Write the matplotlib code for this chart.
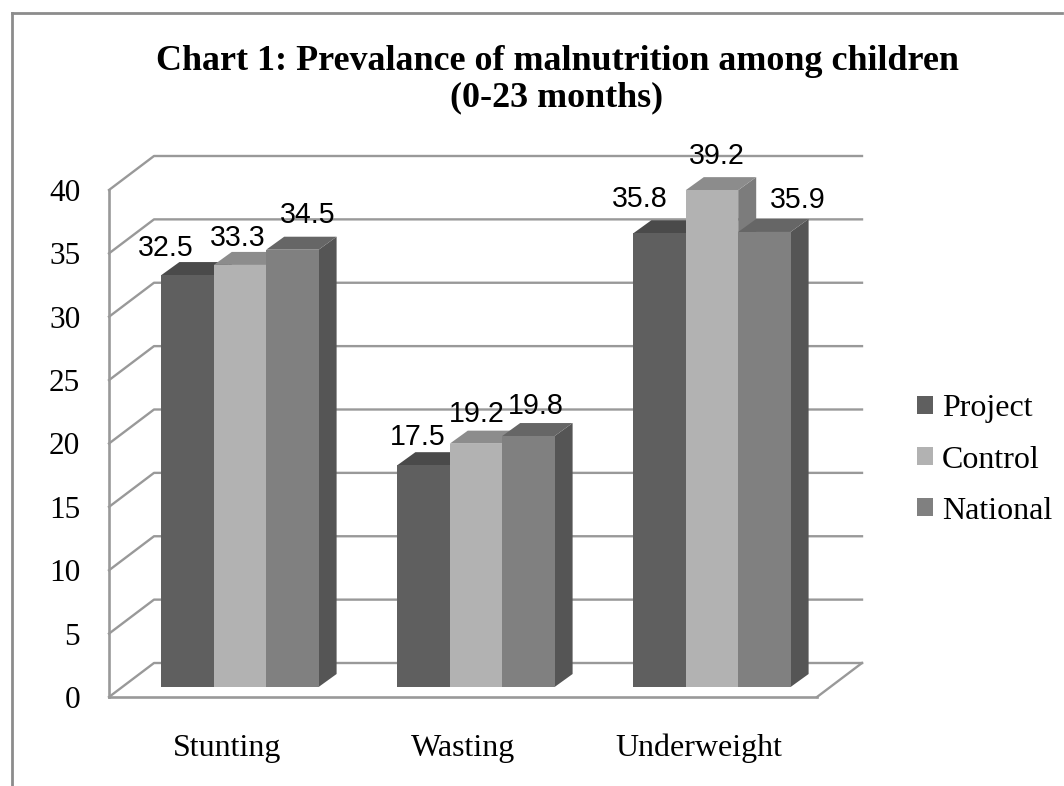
import matplotlib
matplotlib.use('Agg')
import matplotlib.pyplot as plt
from matplotlib.lines import Line2D
from matplotlib.patches import Patch, Polygon

W, H = 1064, 786

categories = ['Stunting', 'Wasting', 'Underweight']
series_names = ['Project', 'Control', 'National']
project = [32.5, 17.5, 35.8]
control = [33.3, 19.2, 39.2]
national = [34.5, 19.8, 35.9]
y_ticks = [0, 5, 10, 15, 20, 25, 30, 35, 40]

front_colors = ['#5f5f5f', '#b2b2b2', '#808080']
top_colors = ['#4a4a4a', '#8c8c8c', '#666666']
side_colors = ['#474747', '#7c7c7c', '#555555']
grid_color = '#999999'

# hand placed data labels in the original, pixel offset from bar top
label_dx = [[-22, -2, 15], [-6, 1, 7], [-20, 5, 33]]
label_dy = [[27, 27, 35], [28, 30, 30], [34, 34, 32]]

fig = plt.figure(figsize=(W / 100, H / 100), dpi=100, facecolor='white')

# axes = front plane of the fake 3d box
ax = fig.add_axes([109 / W, 1 - 697 / H, (817 - 109) / W, (697 - 190) / H])
ax.set_xlim(0, 3)
ax.set_ylim(0, 40)
ax.patch.set_visible(False)

x_unit = (817 - 109) / 3
y_unit = (697 - 190) / 40
depth_x = 45 / x_unit  # wall depth
depth_y = 34 / y_unit
bar_w = 52.4 / x_unit
bar_dx = 18 / x_unit  # bar depth
bar_dy = 13 / y_unit
shift_x = 13 / x_unit  # bars stand a bit behind the front edge
shift_y = 10 / y_unit

# walls and gridlines
for t in y_ticks:
    ax.plot([0, depth_x, 3 + depth_x], [t, t + depth_y, t + depth_y],
            color=grid_color, lw=1.7, clip_on=False, zorder=1)
ax.plot([3, 3 + depth_x], [0, depth_y], color=grid_color, lw=1.7, clip_on=False, zorder=1)

# bars, left to right so the later ones cover the earlier side faces
for s, values in enumerate([project, control, national]):
    for c, v in enumerate(values):
        x0 = c + 0.5 + shift_x + (s - 1.5) * bar_w
        x1 = x0 + bar_w
        bottom = shift_y
        top = shift_y + v
        z = 3 + c * 3 + s
        ax.bar(x0, v, width=bar_w, bottom=bottom, align='edge',
               color=front_colors[s], zorder=z + 0.2, clip_on=False)
        ax.add_patch(Polygon([(x1, bottom), (x1 + bar_dx, bottom + bar_dy),
                              (x1 + bar_dx, top + bar_dy), (x1, top)],
                             color=side_colors[s], lw=0, zorder=z, clip_on=False))
        ax.add_patch(Polygon([(x0, top), (x0 + bar_dx, top + bar_dy),
                              (x1 + bar_dx, top + bar_dy), (x1, top)],
                             color=top_colors[s], lw=0, zorder=z, clip_on=False))
        ax.annotate(f'{v:.1f}', (x0 + bar_w / 2, top),
                    xytext=(label_dx[c][s], label_dy[c][s]), textcoords='offset pixels',
                    ha='center', va='center', fontsize=20.6, family='Liberation Sans',
                    color='black', zorder=50, annotation_clip=False)

ax.set_yticks(y_ticks)
ax.set_xticks([0.5, 1.5, 2.5])
ax.set_xticklabels(categories)
ax.tick_params(axis='both', length=0, labelcolor='black')
ax.tick_params(axis='y', pad=20.7, labelsize=22.5)
ax.tick_params(axis='x', pad=26.5, labelsize=23)
for lab in ax.get_xticklabels() + ax.get_yticklabels():
    lab.set_family('Liberation Serif')
for lab in ax.get_yticklabels():
    lab.set_va('center_baseline')

for name in ['top', 'right']:
    ax.spines[name].set_visible(False)
for name in ['left', 'bottom']:
    ax.spines[name].set_color(grid_color)
    ax.spines[name].set_linewidth(1.9)

fig.text(557 / W, 1 - 79.5 / H, 'Chart 1: Prevalance of malnutrition among children\n(0-23 months)',
         ha='center', va='center', fontsize=25.9, fontweight='bold',
         family='Liberation Serif', linespacing=1.14)

handles = [Patch(color=col, lw=0) for col in front_colors]
fig.legend(handles, series_names, loc='center left', bbox_to_anchor=(917 / W, 1 - 460 / H),
           frameon=False, prop={'family': 'Liberation Serif', 'size': 23},
           handlelength=0.5, handleheight=0.5, handletextpad=0.28, labelspacing=0.69,
           borderpad=0, borderaxespad=0)

# outer chart border, cut off at right and bottom in the original
fig.add_artist(Line2D([12 / W, 12 / W], [0, 1 - 13 / H], color='#8c8c8c', lw=2))
fig.add_artist(Line2D([12 / W, 1062 / W], [1 - 13 / H, 1 - 13 / H], color='#8c8c8c', lw=2))

fig.savefig('out.png', dpi=100)
